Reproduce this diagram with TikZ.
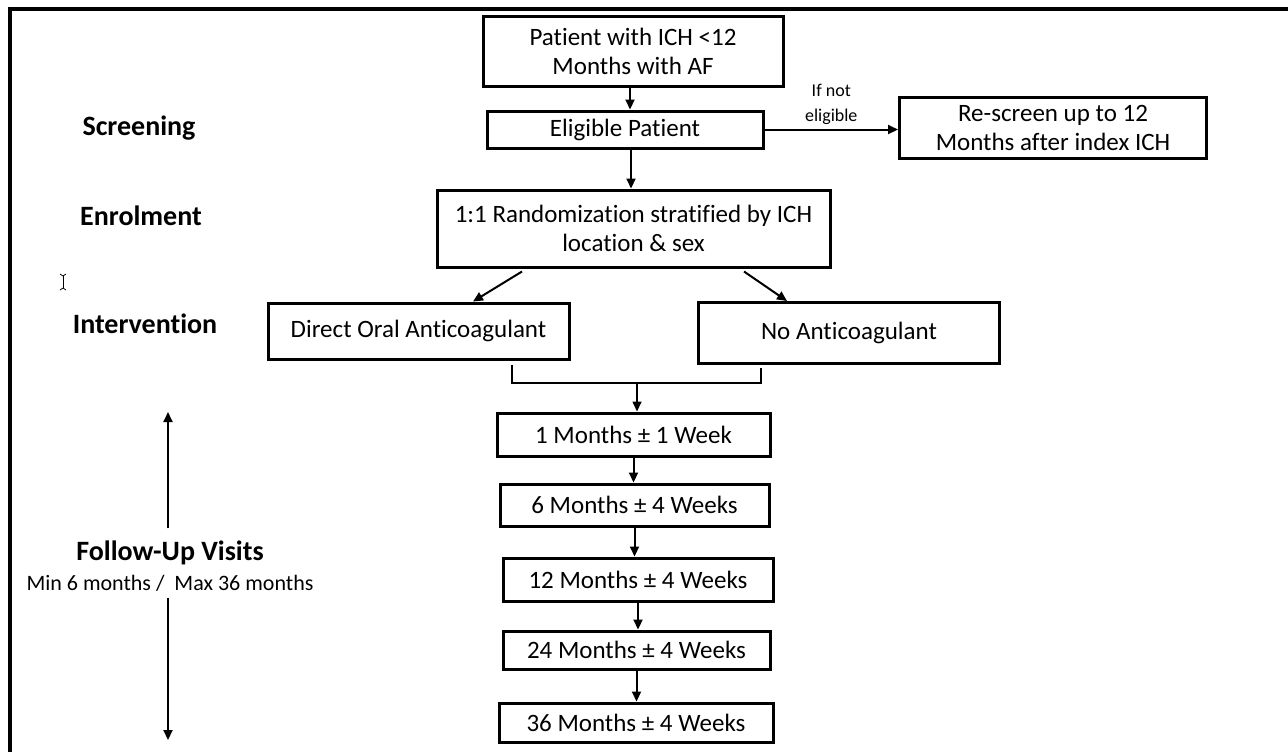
\documentclass[tikz,border=0pt]{standalone}
\usepackage{fontspec}
\setmainfont{Carlito}[Ligatures=NoCommon]
\usetikzlibrary{arrows.meta}
\begin{document}
\begin{tikzpicture}[x=0.5pt,y=-0.5pt]
        \tikzstyle{boxstyle}=[draw, line width=1.5pt, align=center, inner sep=0pt, font=\fontsize{12.5}{14.5}\selectfont]
        \tikzstyle{stagestyle}=[font=\bfseries\fontsize{14}{17}\selectfont]
        \tikzstyle{arrowstyle}=[line width=1pt, arrows=-{Triangle[length=5pt,width=4.5pt]}]
        \useasboundingbox (0,0) rectangle (1288,752);

        % draw the frame along the top and the left edge
        \draw[line width=2pt] (10,752) -- (10,9) -- (1288,9);

        % stage names on the left
        \node[stagestyle] at (139,128) (screening) {Screening};
        \node[stagestyle] at (141,216) (enrolment) {Enrolment};
        \node[stagestyle] at (145,324) (intervention) {Intervention};
        \node[align=center, inner sep=0pt] at (170,566) (followup)
          {{\bfseries\fontsize{14}{17}\selectfont Follow-Up Visits}\\[3pt]
           {\fontsize{11}{13}\selectfont Min 6 months /\ \ Max 36 months}};

        % text cursor left in the picture
        \draw[line width=0.4pt] (60,274) -- (63,276) -- (66,274);
        \draw[line width=0.4pt] (63,276) -- (63,288);
        \draw[line width=0.4pt] (60,290) -- (63,288) -- (66,290);

        % screening and enrolment boxes
        \node[boxstyle, minimum width=150pt, minimum height=35pt] at (633,51) (patient)
          {Patient with ICH <12\\Months with AF};
        \node[boxstyle, minimum width=138pt, minimum height=18.5pt] at (625,129.5) (eligible)
          {Eligible Patient};
        \node[boxstyle, minimum width=153.5pt, minimum height=30.5pt] at (1053,128) (rescreen)
          {Re-screen up to 12\\Months after index ICH};
        \node[boxstyle, minimum width=196.5pt, minimum height=38.5pt] at (633.5,228.5) (random)
          {1:1 Randomization stratified by ICH\\location \& sex};

        % the two arms
        \node[boxstyle, minimum width=150.5pt, minimum height=28pt] at (418.5,331) (doac)
          {Direct Oral Anticoagulant};
        \node[boxstyle, minimum width=150.5pt, minimum height=30.5pt] at (849,333) (noac)
          {No Anticoagulant};

        % follow-up visits
        \node[boxstyle, minimum width=136.5pt, minimum height=21.5pt] at (633.5,434.5) (fu1)
          {1 Months ± 1 Week};
        \node[boxstyle, minimum width=134.5pt, minimum height=21pt] at (634.5,505) (fu6)
          {6 Months ± 4 Weeks};
        \node[boxstyle, minimum width=135pt, minimum height=21.5pt] at (638,579.5) (fu12)
          {12 Months ± 4 Weeks};
        \node[boxstyle, minimum width=133.5pt, minimum height=19pt] at (636.5,650) (fu24)
          {24 Months ± 4 Weeks};
        \node[boxstyle, minimum width=137pt, minimum height=19.5pt] at (636,722.5) (fu36)
          {36 Months ± 4 Weeks};

        % arrows of the screening part
        \draw[arrowstyle] (patient.south -| 630,0) -- (eligible.north -| 630,0);
        \draw[arrowstyle] (eligible.south -| 631,0) -- (random.north -| 631,0);
        \draw[arrowstyle] (eligible.east) -- node[midway, above, align=center, inner sep=2pt,
            font=\fontsize{9}{12.5}\selectfont] {If not\\eligible} (rescreen.west |- eligible.east);

        % randomization into the two arms
        \draw[arrowstyle] ([xshift=-55.75pt,yshift=-1.5pt]random.south) -- ([xshift=27.25pt]doac.north);
        \draw[arrowstyle] ([xshift=55.25pt,yshift=-1.5pt]random.south) -- ([xshift=-31pt]noac.north);

        % join the arms and go to the first visit
        \coordinate (merge) at (637,383);
        \draw[line width=0.8pt] ([xshift=46.75pt,yshift=-2pt]doac.south) |- (merge)
          -| ([xshift=-44pt,yshift=-1.5pt]noac.south);
        \draw[arrowstyle, line width=0.8pt] (merge) -- (merge |- fu1.north);

        \foreach \a/\b in {fu1/fu6, fu6/fu12, fu12/fu24, fu24/fu36}
        {
          \draw[arrowstyle] (\a.south) -- (\a.south |- \b.north);
        };

        % draw the arrow along the follow-up period
        \coordinate (futop) at (168,412);
        \coordinate (fubottom) at (168,740);
        \draw[arrowstyle] ([yshift=6pt]followup.north -| futop) -- (futop);
        \draw[arrowstyle] ([yshift=-3pt]followup.south -| fubottom) -- (fubottom);
\end{tikzpicture}
\end{document}
